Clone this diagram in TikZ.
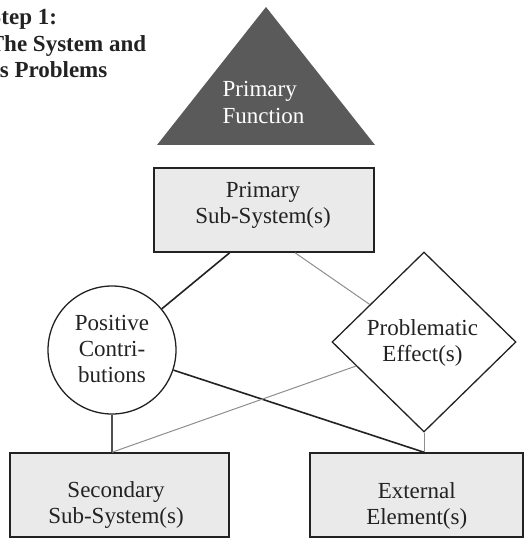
\documentclass[tikz,border=0pt]{standalone}
\usepackage{fontspec}
\setmainfont{Liberation Serif}
\usetikzlibrary{shapes.geometric,calc}
\definecolor{inkdark}{HTML}{222222}
\definecolor{inkgray}{HTML}{8E8E8E}
\definecolor{boxfill}{HTML}{EAEAEA}
\definecolor{headfill}{HTML}{5A5A5A}
\definecolor{stemgray}{HTML}{505050}
\begin{document}
\begin{tikzpicture}[x=1bp,y=-1bp,
  every node/.style={inner sep=0pt, font=\fontsize{23bp}{26bp}\selectfont},
  heading/.style={anchor=base west, text=inkdark, font=\fontsize{23bp}{26bp}\selectfont\bfseries},
  part/.style={rectangle, draw=inkdark, line width=1.5bp, fill=boxfill, minimum height=84bp},
  txt/.style={align=center, text=inkdark},
  strong/.style={draw=inkdark, line width=1.6bp},
  weak/.style={draw=inkgray, line width=1bp},
  stem/.style={draw=stemgray, line width=2.6bp}]
\clip (0,0) rectangle (528,538);

% heading, running off the left edge
\node[heading] (title-a) at (-11.5,25)   {Step 1:};
\node[heading] (title-b) at (-11.3,51.7) {The System and};
\node[heading] (title-c) at (-17,77.3)   {Its Problems};

% primary function: dark triangle on top
\fill[headfill] (266,7) -- (375,145) -- (157,145) -- cycle;
\node[anchor=west, align=left, text=white] (pf) at (222.5,102.5) {Primary\\Function};

% shapes
\node[part, minimum width=220bp] (pss) at (264,210) {};
\node[txt] (pss-t) at (263,205.5) {Primary\\Sub-System(s)};

\node[circle, draw=inkdark, line width=1.3bp, fill=white, minimum size=128bp] (pc) at (112,350) {};
\node[txt] (pc-t) at (112,349) {Positive\\Contri-\\butions};

\node[diamond, draw=inkdark, line width=1.3bp, fill=white,
      minimum width=184bp, minimum height=180bp] (pe) at (424,342) {};
\node[txt] (pe-t) at (422.5,343) {Problematic\\Effect(s)};

\node[part, minimum width=219bp] (ss) at (119.5,495) {};
\node[txt] (ss-t) at (116,505) {Secondary\\Sub-System(s)};

\node[part, minimum width=213bp] (ee) at (416.5,495) {};
\node[txt] (ee-t) at (416.7,505.5) {External\\Element(s)};

% connectors
\draw[strong] ($(pss.south west)!0.345!(pss.south east)$) -- (pc);
\draw[weak]   ($(pss.south west)!0.64!(pss.south east)$) -- (pe);
\draw[strong] (pc) -- (pe.south |- ee.north);
\draw[weak]   (pe.south) -- (pe.south |- ee.north);
\draw[stem]   (pc.south) -- (pc.south |- ss.north);
\draw[weak]   (pc.south |- ss.north) -- (pe);
\end{tikzpicture}
\end{document}
